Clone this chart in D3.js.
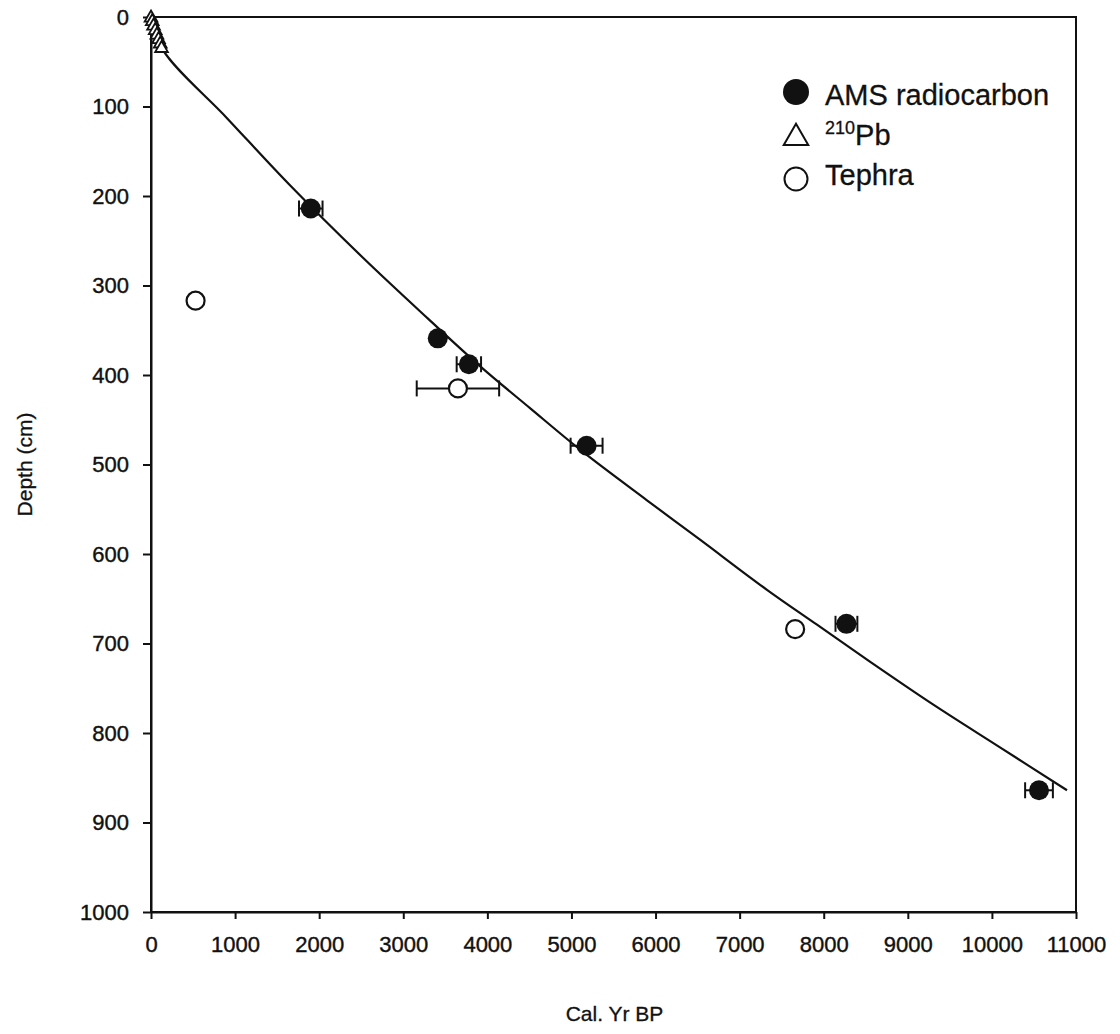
<!DOCTYPE html>
<html>
<head>
<meta charset="utf-8">
<script src="https://cdn.jsdelivr.net/npm/d3@7"></script>
<style>
  body { margin: 0; background: #fff; }
  text { font-family: "Liberation Sans", Arial, sans-serif; fill: #111; }
</style>
</head>
<body>
<svg id="chart" width="1120" height="1034"></svg>
<script>
// AMS radiocarbon dates (cal yr BP, depth cm, +/- error)
const amsAge = [1900, 3410, 3780, 5180, 8270, 10560];
const amsDepth = [214, 359, 388, 479, 678, 864];
const amsErr = [140, 0, 145, 190, 130, 165];

// tephra layers
const tephraAge = [530, 3650, 7660];
const tephraDepth = [317, 415, 684];
const tephraErr = [0, 490, 0];

// 210Pb dates near the core top
const pbAge = [0, 15, 30, 50, 70, 90, 110, 125];
const pbDepth = [1, 5, 10, 15, 20, 25, 30, 35];

// age-depth model curve
const modelAge = [0, 143, 904, 1653, 2521, 3294, 3912, 4507, 5137, 5898, 6529, 7325, 7920, 8515, 9299, 10096, 10893];
const modelDepth = [0, 37, 113, 188, 269, 337, 390, 437, 486, 540, 584, 640, 679, 718, 768, 816, 864];

const xTicks = d3.range(0, 11001, 1000);
const yTicks = d3.range(0, 1001, 100);

const legendItems = ["AMS radiocarbon", "210Pb", "Tephra"];

const margin = {top: 17, right: 44, bottom: 122, left: 151};
const width = 1120, height = 1034;

const svg = d3.select("#chart");

const x = d3.scaleLinear().domain([0, 11000]).range([margin.left, width - margin.right]);
const y = d3.scaleLinear().domain([0, 1000]).range([margin.top, height - margin.bottom]);

// frame
svg.append("rect")
  .attr("x", x(0)).attr("y", y(0))
  .attr("width", x(11000) - x(0)).attr("height", y(1000) - y(0))
  .attr("fill", "none").attr("stroke", "#111").attr("stroke-width", 2);

let xAxis = svg.append("g")
  .attr("transform", `translate(0, ${y(1000)})`)
  .call(d3.axisBottom(x).tickValues(xTicks).tickSize(7).tickSizeOuter(0).tickPadding(17).tickFormat(d3.format("d")));
let yAxis = svg.append("g")
  .attr("transform", `translate(${x(0)}, 0)`)
  .call(d3.axisLeft(y).tickValues(yTicks).tickSize(8).tickSizeOuter(0).tickPadding(14).tickFormat(d3.format("d")));

[xAxis, yAxis].forEach(ax => {
  ax.select(".domain").attr("stroke", "#111").attr("stroke-width", 2);
  ax.selectAll(".tick line").attr("stroke", "#111").attr("stroke-width", 2);
  ax.selectAll(".tick text")
    .attr("font-size", 22).attr("font-family", "Liberation Sans, Arial, sans-serif")
    .attr("fill", "#111").attr("stroke", "#111").attr("stroke-width", 0.4);
});

// axis titles
svg.append("text")
  .attr("x", (x(0) + x(11000)) / 2 + 1).attr("y", 1021)
  .attr("text-anchor", "middle").attr("font-size", 21)
  .attr("stroke", "#111").attr("stroke-width", 0.3)
  .text("Cal. Yr BP");
svg.append("text")
  .attr("transform", `translate(32, ${(y(0) + y(1000)) / 2}) rotate(-90)`)
  .attr("text-anchor", "middle").attr("font-size", 21)
  .attr("stroke", "#111").attr("stroke-width", 0.3)
  .text("Depth (cm)");

// model line
const model = modelAge.map((a, i) => ({age: a, depth: modelDepth[i]}));
svg.append("path")
  .datum(model)
  .attr("d", d3.line().x(d => x(d.age)).y(d => y(d.depth)).curve(d3.curveCatmullRom.alpha(0.5)))
  .attr("fill", "none").attr("stroke", "#111").attr("stroke-width", 2.2);

// error bars
function drawErrors(ages, depths, errs) {
  const rows = ages.map((a, i) => ({age: a, depth: depths[i], err: errs[i]})).filter(d => d.err > 0);
  const g = svg.append("g").attr("stroke", "#111").attr("stroke-width", 2);
  g.selectAll("line.bar").data(rows).enter().append("line")
    .attr("x1", d => x(d.age - d.err)).attr("x2", d => x(d.age + d.err))
    .attr("y1", d => y(d.depth)).attr("y2", d => y(d.depth));
  g.selectAll("line.capl").data(rows).enter().append("line")
    .attr("x1", d => x(d.age - d.err)).attr("x2", d => x(d.age - d.err))
    .attr("y1", d => y(d.depth) - 8).attr("y2", d => y(d.depth) + 8);
  g.selectAll("line.capr").data(rows).enter().append("line")
    .attr("x1", d => x(d.age + d.err)).attr("x2", d => x(d.age + d.err))
    .attr("y1", d => y(d.depth) - 8).attr("y2", d => y(d.depth) + 8);
}
drawErrors(tephraAge, tephraDepth, tephraErr);
drawErrors(amsAge, amsDepth, amsErr);

// 210Pb triangles
svg.append("g").selectAll("path")
  .data(pbAge.map((a, i) => ({age: a, depth: pbDepth[i]}))).enter()
  .append("path")
  .attr("d", d3.symbol(d3.symbolTriangle, 70))
  .attr("transform", d => `translate(${x(d.age)}, ${y(d.depth)})`)
  .attr("fill", "#fff").attr("stroke", "#111").attr("stroke-width", 1.8);

// tephra open circles
svg.append("g").selectAll("circle")
  .data(tephraAge.map((a, i) => ({age: a, depth: tephraDepth[i]}))).enter()
  .append("circle")
  .attr("cx", d => x(d.age)).attr("cy", d => y(d.depth)).attr("r", 9)
  .attr("fill", "#fff").attr("stroke", "#111").attr("stroke-width", 2.2);

// AMS filled circles
svg.append("g").selectAll("circle")
  .data(amsAge.map((a, i) => ({age: a, depth: amsDepth[i]}))).enter()
  .append("circle")
  .attr("cx", d => x(d.age)).attr("cy", d => y(d.depth)).attr("r", 10)
  .attr("fill", "#111");

// legend
const lg = svg.append("g").attr("transform", "translate(796, 0)");
lg.append("circle").attr("cx", 0).attr("cy", 92).attr("r", 13).attr("fill", "#111");
lg.append("path").attr("d", d3.symbol(d3.symbolTriangle, 260))
  .attr("transform", "translate(0, 138)")
  .attr("fill", "#fff").attr("stroke", "#111").attr("stroke-width", 2);
lg.append("circle").attr("cx", 0).attr("cy", 179).attr("r", 11.5)
  .attr("fill", "#fff").attr("stroke", "#111").attr("stroke-width", 2);

const legendText = lg.append("g").attr("font-size", 29).attr("stroke", "#111").attr("stroke-width", 0.3);
legendText.append("text").attr("x", 29).attr("y", 105).text(legendItems[0]);
const pbText = legendText.append("text").attr("x", 29).attr("y", 145);
pbText.append("tspan").attr("font-size", 18).attr("dy", -11).text(legendItems[1].slice(0, 3));
pbText.append("tspan").attr("dy", 11).text(legendItems[1].slice(3));
legendText.append("text").attr("x", 29).attr("y", 185).text(legendItems[2]);
</script>
</body>
</html>
